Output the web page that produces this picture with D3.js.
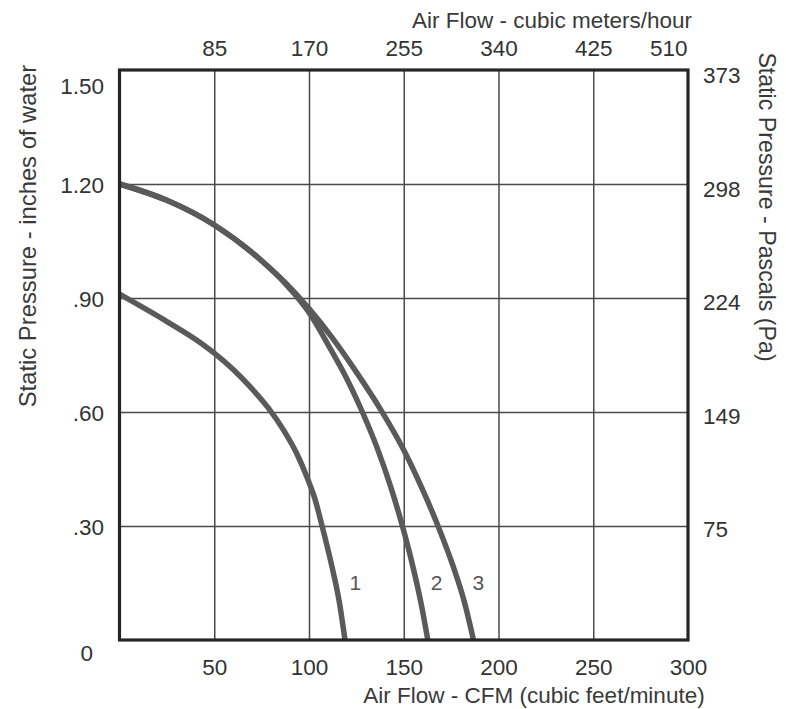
<!DOCTYPE html>
<html><head><meta charset="utf-8">
<script src="https://cdn.jsdelivr.net/npm/d3@7"></script>
<style>
html,body{margin:0;padding:0;background:#fff;}
svg{display:block;font-family:"Liberation Sans",Arial,sans-serif;}
</style></head><body>
<svg id="c" width="786" height="709"></svg>
<script>
// ---- data ----
const cfmTicks = [50, 100, 150, 200, 250, 300];
const m3hTicks = [85, 170, 255, 340, 425, 510];
const inchTicks = [0, 0.30, 0.60, 0.90, 1.20, 1.50];
const inchLabels = ["0", ".30", ".60", ".90", "1.20", "1.50"];
const paTicks = [75, 149, 224, 298, 373];
const curveNames = ["1", "2", "3"];
const curve1 = [[0,0.91],[25,0.838],[42.5,0.783],[50,0.755],[60,0.712],[69,0.666],[78.6,0.61],[86.5,0.553],[93.6,0.49],[99.2,0.425],[103.2,0.37],[106.9,0.30],[111.8,0.20],[116,0.10],[119,0]];
const curve2 = [[0,1.20],[25,1.157],[50,1.092],[75,0.998],[87.5,0.938],[100,0.862],[112,0.76],[119,0.697],[128,0.602],[136,0.505],[143,0.405],[149,0.305],[154.5,0.20],[159,0.10],[162.7,0]];
const curve3 = [[0,1.20],[25,1.157],[50,1.092],[75,0.998],[87.5,0.94],[100,0.872],[112,0.797],[125,0.705],[138,0.605],[150,0.50],[160,0.395],[168.5,0.295],[176,0.195],[182,0.10],[186.8,0]];
const xTitleBottom = "Air Flow - CFM (cubic feet/minute)";
const xTitleTop = "Air Flow - cubic meters/hour";
const yTitleLeft = "Static Pressure - inches of water";
const yTitleRight = "Static Pressure - Pascals (Pa)";

// ---- layout ----
const L = 119.5, R = 688, T = 70, B = 640;
const x = d3.scaleLinear().domain([0, 300]).range([L, R]);
const xTop = d3.scaleLinear().domain([0, 510]).range([L, R]);
const y = d3.scaleLinear().domain([0, 1.5]).range([B, T]);
const yPa = d3.scaleLinear().domain([0, 373.6]).range([B, T]);

const svg = d3.select("#c");
const textCol = "#333";
const fs = 22.5;

// grid
const grid = svg.append("g");
grid.append("g").attr("transform", `translate(0,${B})`)
  .call(d3.axisBottom(x).tickValues(cfmTicks.filter(d => d < 300)).tickSize(-(B - T)).tickFormat(""))
  .call(g => g.select(".domain").remove())
  .call(g => g.selectAll("line").attr("stroke", "#4a4a4a").attr("stroke-width", 1.5));
grid.append("g").attr("transform", `translate(${L},0)`)
  .call(d3.axisLeft(y).tickValues(inchTicks.filter(d => d > 0 && d < 1.5)).tickSize(-(R - L)).tickFormat(""))
  .call(g => g.select(".domain").remove())
  .call(g => g.selectAll("line").attr("stroke", "#4a4a4a").attr("stroke-width", 1.5));

// curves
const line = d3.line().x(d => x(d[0])).y(d => y(d[1])).curve(d3.curveMonotoneX);
const curves = [curve1, curve2, curve3];
svg.append("g").selectAll("path").data(curves).join("path")
  .attr("d", line).attr("fill", "none").attr("stroke", "#5a5a5a")
  .attr("stroke-width", 5.5).attr("stroke-linecap", "butt");

// frame
svg.append("rect").attr("x", L).attr("y", T).attr("width", R - L).attr("height", B - T)
  .attr("fill", "none").attr("stroke", "#262626").attr("stroke-width", 3.2);

// curve labels
function xAt(c, v) {
  for (let i = 0; i < c.length - 1; i++) {
    const a = c[i], b = c[i + 1];
    if ((a[1] - v) * (b[1] - v) <= 0) return a[0] + (b[0] - a[0]) * (v - a[1]) / (b[1] - a[1]);
  }
  return c[c.length - 1][0];
}
svg.append("g").selectAll("text").data(curves).join("text")
  .attr("x", d => x(xAt(d, 0.15)) + 20)
  .attr("y", y(0.15) + 7)
  .attr("text-anchor", "middle").attr("font-size", 21).attr("fill", "#555")
  .text((d, i) => curveNames[i]);

// bottom axis labels
svg.append("g").attr("transform", `translate(0,${B})`)
  .call(d3.axisBottom(x).tickValues(cfmTicks).tickSize(0).tickPadding(0))
  .call(g => g.select(".domain").remove())
  .call(g => g.selectAll("text").attr("y", 35).attr("dy", null)
    .attr("font-size", fs).attr("font-family", null).attr("fill", textCol));

// top axis labels
svg.append("g").attr("transform", `translate(0,${T})`)
  .call(d3.axisTop(xTop).tickValues(m3hTicks).tickSize(0).tickPadding(0))
  .call(g => g.select(".domain").remove())
  .call(g => g.selectAll("text").attr("y", -14).attr("dy", null)
    .attr("font-size", fs).attr("font-family", null).attr("fill", textCol)
    .attr("text-anchor", d => d === 510 ? "end" : "middle")
    .attr("x", d => d === 510 ? -1 : 0));

// left axis labels
svg.append("g").attr("transform", `translate(104,0)`)
  .call(d3.axisLeft(y).tickValues(inchTicks).tickSize(0).tickPadding(0)
    .tickFormat((d, i) => inchLabels[i]))
  .call(g => g.select(".domain").remove())
  .call(g => g.selectAll("text")
    .attr("font-size", fs).attr("font-family", null).attr("fill", textCol)
    .attr("dy", d => d === 1.5 ? "1.05em" : d === 0 ? "0.92em" : "0.38em")
    .attr("x", d => d === 0 ? -11 : 0));

// right axis labels
svg.append("g").attr("transform", `translate(703,0)`)
  .call(d3.axisRight(yPa).tickValues(paTicks).tickSize(0).tickPadding(0))
  .call(g => g.select(".domain").remove())
  .call(g => g.selectAll("text").attr("x", 0).attr("dy", "0.5em")
    .attr("font-size", fs).attr("font-family", null).attr("fill", textCol));

// titles
svg.append("text").attr("x", 534).attr("y", 703).attr("text-anchor", "middle")
  .attr("font-size", fs).attr("fill", "#3a3a3a").text(xTitleBottom);
svg.append("text").attr("x", 552).attr("y", 28).attr("text-anchor", "middle")
  .attr("font-size", fs).attr("fill", "#3a3a3a").text(xTitleTop);
svg.append("text").attr("transform", "translate(36,236) rotate(-90)").attr("text-anchor", "middle")
  .attr("font-size", 23.8).attr("fill", "#3a3a3a").text(yTitleLeft);
svg.append("text").attr("transform", "translate(759,207) rotate(90)").attr("text-anchor", "middle")
  .attr("font-size", 23.2).attr("fill", "#3a3a3a").text(yTitleRight);
</script>
</body></html>
